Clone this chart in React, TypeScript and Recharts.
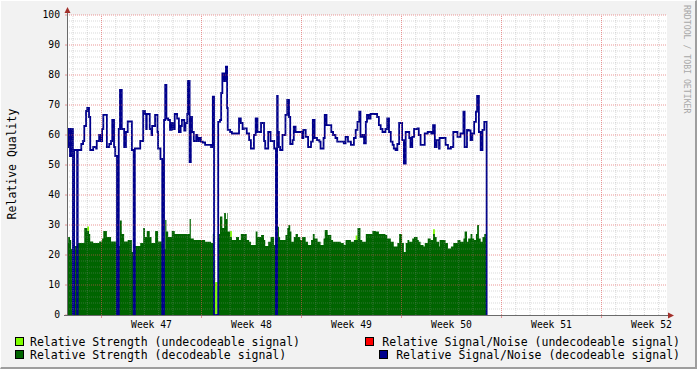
import React from 'react';
import { ComposedChart, Area, Line, XAxis, YAxis, ReferenceLine, ReferenceArea } from 'recharts';

// hours since the left edge of the graph (one sample per change of value)
const hours = [
  0, 2, 5, 7, 10, 12, 17, 18, 24, 27,
  29, 32, 34, 37, 39, 44, 49, 50, 54, 57,
  59, 61, 67, 71, 74, 76, 79, 81, 84, 87,
  89, 92, 96, 99, 102, 109, 112, 114, 123, 128,
  131, 133, 134, 139, 142, 143, 148, 152, 153, 157,
  160, 163, 165, 167, 170, 173, 176, 178, 181, 185,
  188, 191, 193, 197, 199, 202, 203, 206, 208, 210,
  213, 217, 219, 222, 225, 228, 232, 242, 245, 247,
  249, 254, 257, 259, 261, 264, 267, 269, 270, 274,
  277, 284, 289, 292, 295, 297, 302, 306, 309, 314,
  317, 320, 326, 331, 333, 338, 342, 348, 351, 353,
  354, 356, 358, 362, 367, 370, 372, 373, 375, 377,
  379, 381, 384, 388, 392, 395, 397, 401, 405, 410,
  413, 416, 420, 421, 424, 426, 431, 433, 436, 438,
  444, 447, 451, 454, 460, 465, 468, 472, 477, 482,
  485, 488, 491, 493, 496, 499, 502, 504, 507, 510,
  513, 519, 521, 524, 527, 530, 535, 538, 541, 544,
  547, 549, 552, 555, 558, 563, 566, 569, 572, 575,
  577, 580, 583, 589, 591, 594, 599, 601, 606, 611,
  612, 615, 618, 621, 625, 626, 636, 640, 645, 649,
  656, 661, 666, 668, 672, 674, 675, 678, 681, 684,
  687, 689, 692, 695, 698, 701, 705,
];

// Relative Strength (decodeable signal)
const strength = [
  24, 26, 25, 22, 0, 23, 0, 24, 24, 24,
  29, 29, 28, 27, 24.5, 24, 24, 24, 24.5, 24.5,
  25.5, 28, 26, 26, 24.5, 24.5, 24.5, 24.5, 0, 23,
  31.5, 27, 24.5, 24.5, 25, 21, 0, 23, 24, 29,
  26, 26, 28, 26, 24, 24, 28, 28, 24.5, 24.5,
  0, 22, 31.7, 27.8, 26, 26, 28, 28, 27, 27,
  27, 27, 27, 27, 27, 27, 27, 32, 25.5, 25.5,
  25, 25, 25, 25, 25, 25, 24.4, 24, 27, 0,
  0, 27, 32.8, 32.8, 29, 34, 32, 34, 27.8, 26,
  25, 26, 25, 27, 27, 27, 25, 24.4, 23.3, 23.3,
  27.8, 26, 26.7, 25, 23, 24.4, 26, 23.3, 0, 29.4,
  29.4, 26, 25, 25, 26.7, 29, 30, 30, 27.8, 24.4,
  24.4, 26, 27, 26, 25, 26, 26, 24.4, 23.3, 25,
  27, 25.5, 25.5, 24.4, 24.4, 23.3, 25.5, 28.3, 28.3, 26.7,
  25, 24.4, 24.4, 24.4, 24, 23.3, 25, 25, 24.4, 25,
  25, 29, 29, 25, 24.4, 24.4, 27, 27, 27, 27,
  28, 27.8, 27.8, 27, 27, 27, 26.7, 25.5, 25.5, 24.4,
  24.4, 22.8, 22.8, 24, 27, 24, 21, 24, 25, 24.4,
  24.4, 25.5, 26, 25, 24.4, 23.3, 22.8, 24, 25.5, 25,
  25, 27, 26, 24.4, 22.8, 25, 24, 22.2, 22.8, 24,
  25, 24.4, 25.5, 27.8, 24.4, 25.5, 25.5, 27, 25.5, 25,
  27, 30, 25.5, 24.4, 26, 27, 0,
];

// Relative Signal/Noise (decodeable signal)
const snr = [
  56, 62, 53, 62, 0, 55, 0, 55, 57, 58,
  63, 68, 69, 66, 55, 56, 55.5, 58, 60, 58,
  62, 66.7, 56, 57, 58, 65, 56, 53, 0, 62,
  75, 62, 56, 61, 64.5, 55, 0, 55.5, 58, 68,
  67, 62, 67, 62, 60, 63, 66.7, 61, 55.5, 52,
  0, 65, 76.7, 65.5, 65, 61.7, 64, 62, 67, 65.5,
  61, 63, 65, 61.5, 64, 67, 78, 51, 66, 61,
  58, 60, 58, 59, 57.8, 57.5, 56.7, 56, 72.8, 0,
  0, 64.4, 65, 74, 80.5, 78, 82.8, 69, 61.7, 61,
  60.5, 60.5, 65.5, 64, 62, 62.2, 60.5, 58.3, 55.5, 60,
  65.5, 61, 64, 58, 55.5, 61, 58, 55.5, 0, 73,
  61, 56, 55, 60, 66.7, 71.7, 71.7, 66, 57, 57,
  58.3, 62.8, 61, 61, 61, 59, 61.7, 59.4, 56, 57.8,
  65, 59, 58.3, 58.3, 57.8, 55.5, 59, 66.7, 63.3, 63.3,
  61, 60, 59, 57.8, 57.8, 57.2, 59.4, 57.8, 56.7, 59,
  61.7, 64.4, 67.8, 59.4, 60, 57.2, 64.4, 66.7, 65.5, 67,
  67, 67, 66, 63.3, 62, 61, 62, 65.5, 61, 57.8,
  56.7, 55.5, 55, 57, 64, 58.3, 50.5, 61, 61, 59,
  56, 59.4, 62, 62.2, 60, 56.7, 56.7, 60.5, 61, 61,
  60.5, 63.3, 56, 58.3, 55.5, 59, 56.7, 55.5, 56, 61,
  59.4, 60.5, 67.8, 56, 61.7, 61.7, 61.5, 58.3, 60.5, 64.4,
  67.8, 73, 61, 55, 61.7, 64.4, 0,
];

// Relative Strength (undecodeable signal)
const undecHours = [0, 34, 37, 84, 87, 160, 163, 247, 249, 254, 274, 277, 485, 488, 615, 618, 705];
const undecStrength = [0, 29.5, 0, 15, 0, 10, 0, 18, 11, 0, 28, 0, 26.5, 0, 28.6, 0, 0];

const weekLabels = ['Week 47', 'Week 48', 'Week 49', 'Week 50', 'Week 51', 'Week 52'];
const weekLabelHours = [142, 310, 478, 646, 814, 982];
const weekStartHours = [58, 226, 394, 562, 730, 898];
const yTicks = [0, 10, 20, 30, 40, 50, 60, 70, 80, 90, 100];

const dayHours = Array.from({ length: 42 }, (_, k) => 10 + 24 * k).filter(h => !weekStartHours.includes(h));
const yMinor = Array.from({ length: 49 }, (_, k) => 2 + 2 * k).filter(v => v % 10 !== 0);

const MONO = '"DejaVu Sans Mono", monospace';
const MINOR = 'rgba(143,143,143,0.35)';
const MAJOR = 'rgba(222,80,80,0.6)';
const ARROW = '#a3302b';

const rows = hours.map((h, i) => ({ h, strength: strength[i], snr: snr[i] }));
const undecRows = undecHours.map((h, i) => ({ h, undec: undecStrength[i] }));

const WeekTick = (props: any) => {
  const { x, y, payload } = props;
  const idx = weekLabelHours.indexOf(payload.value);
  if (idx >= 0) {
    return (
      <text x={x} y={y} dy="0.71em" textAnchor="middle" fontFamily={MONO} fontSize={9.7} fill="#000">
        {weekLabels[idx]}
      </text>
    );
  }
  return <line x1={x} x2={x} y1={y - 6} y2={y - 3} stroke={MAJOR} />;
};

const App: React.FC = () => {
  return (
    <div style={{ position: 'absolute', left: 0, top: 0, width: 697, height: 369, background: '#f2f2f2' }}>
      <ComposedChart width={697} height={369} data={rows} margin={{ top: 15, right: 30, bottom: 34, left: 0 }}>
        <XAxis
          dataKey="h"
          type="number"
          domain={[0, 1008]}
          allowDataOverflow
          ticks={[...weekStartHours, ...weekLabelHours].sort((a, b) => a - b)}
          interval={0}
          tick={(p: any) => <WeekTick {...p} />}
          tickLine={false}
          axisLine={false}
          tickSize={0}
          tickMargin={6}
          height={20}
        />
        <YAxis
          type="number"
          domain={[0, 100]}
          ticks={yTicks}
          interval={0}
          width={67}
          tick={{ fontFamily: MONO, fontSize: 9.7, fill: '#000' }}
          tickLine={{ stroke: MAJOR }}
          tickSize={2}
          tickMargin={5}
          axisLine={false}
        />
        <ReferenceArea x1={0} x2={1008} y1={0} y2={100} fill="#ffffff" fillOpacity={1} stroke="none" />
        <Area
          data={undecRows}
          dataKey="undec"
          type="stepAfter"
          fill="#7fff00"
          fillOpacity={1}
          stroke="none"
          isAnimationActive={false}
        />
        <Area dataKey="strength" type="stepAfter" fill="#006400" fillOpacity={1} stroke="none" isAnimationActive={false} />
        <Line dataKey="snr" type="stepAfter" stroke="#00008c" strokeWidth={1.8} dot={false} isAnimationActive={false} />
        {/* grid is drawn over the data, as rrdtool does */}
        {yMinor.map(v => (
          <ReferenceLine key={`ym${v}`} y={v} stroke={MINOR} strokeDasharray="1 1" />
        ))}
        {dayHours.map(h => (
          <ReferenceLine key={`xm${h}`} x={h} stroke={MINOR} strokeDasharray="1 1" />
        ))}
        {yTicks.filter(v => v > 0).map(v => (
          <ReferenceLine key={`yM${v}`} y={v} stroke={MAJOR} strokeDasharray="1 1" />
        ))}
        {weekStartHours.map(h => (
          <ReferenceLine key={`xM${h}`} x={h} stroke={MAJOR} strokeDasharray="1 1" />
        ))}
      </ComposedChart>

      <svg width={697} height={369} style={{ position: 'absolute', left: 0, top: 0, pointerEvents: 'none' }}>
        {/* axes with arrows */}
        <line x1={67.5} y1={315} x2={67.5} y2={11} stroke="#6a6a6a" />
        <line x1={64} y1={315.5} x2={670} y2={315.5} stroke="#6a6a6a" />
        <polygon points="67.5,7 64.5,13 70.5,13" fill={ARROW} />
        <polygon points="674,315.5 668,312.5 668,318.5" fill={ARROW} />

        <text
          x={15.5}
          y={164}
          transform="rotate(-90, 15.5, 164)"
          textAnchor="middle"
          fontFamily={MONO}
          fontSize={11.5}
          fill="#000"
        >
          Relative Quality
        </text>
        <text
          x={684}
          y={5}
          transform="rotate(90, 684, 5)"
          fontFamily={MONO}
          fontSize={8.2}
          fill="#a8a8a8"
        >
          RRDTOOL / TOBI OETIKER
        </text>

        {/* legend */}
        <g fontFamily={MONO} fontSize={11.5} fill="#000" style={{ whiteSpace: 'pre' }}>
          <rect x={15.5} y={337.5} width={8} height={8} fill="#7fff00" stroke="#000" />
          <text x={30} y={345.5}>Relative Strength (undecodeable signal)</text>
          <rect x={365.5} y={337.5} width={8} height={8} fill="#ff0000" stroke="#000" />
          <text x={680} y={345.5} textAnchor="end">Relative Signal/Noise (undecodeable signal)</text>
          <rect x={15.5} y={350.5} width={8} height={8} fill="#006400" stroke="#000" />
          <text x={30} y={358.5}>Relative Strength  (decodeable signal)</text>
          <rect x={379.5} y={350.5} width={8} height={8} fill="#00008c" stroke="#000" />
          <text x={680} y={358.5} textAnchor="end">Relative Signal/Noise (decodeable signal)</text>
        </g>
      </svg>
      <div
        style={{
          position: 'absolute',
          left: 0,
          top: 0,
          width: 697,
          height: 369,
          boxSizing: 'border-box',
          borderTop: '1px solid #ffffff',
          borderLeft: '1px solid #ffffff',
          borderRight: '2px solid #9e9e9e',
          borderBottom: '2px solid #9e9e9e',
          pointerEvents: 'none',
        }}
      />
    </div>
  );
};

export default App;
